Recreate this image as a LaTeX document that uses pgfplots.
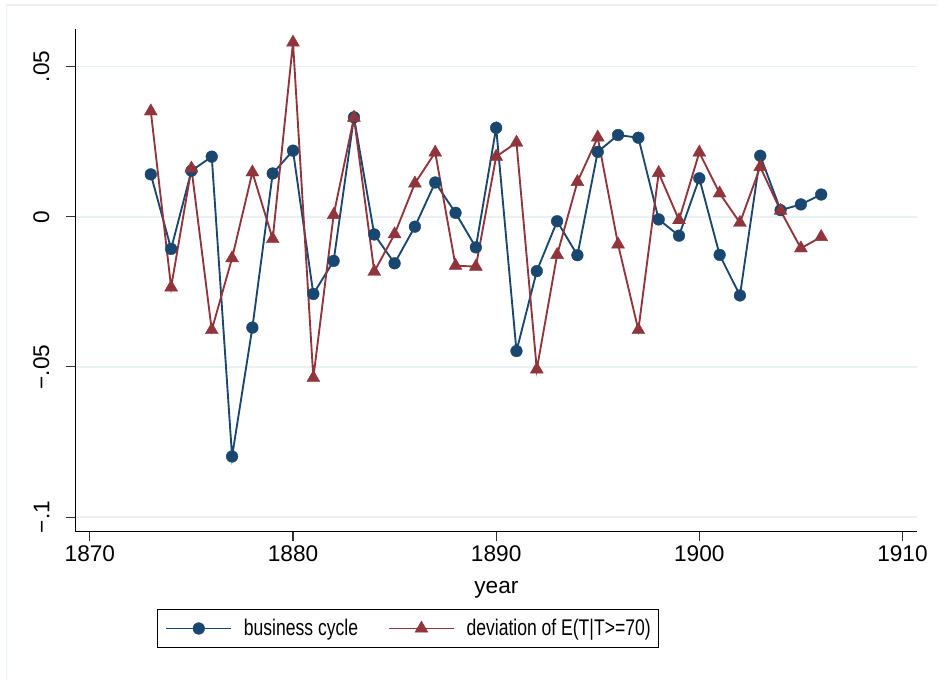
\documentclass[border=0pt]{standalone}
\usepackage{fontspec}
\setmainfont{Liberation Sans}
\usepackage{graphicx}
\usepackage{pgfplots}
\pgfplotsset{compat=1.18}
\definecolor{stnavy}{RGB}{26,71,111}
\definecolor{stmaroon}{RGB}{144,53,59}
\definecolor{stgrid}{RGB}{234,241,243}
\newcommand{\lgtext}[1]{\scalebox{0.775}[1]{#1}}
\begin{document}
\begin{tikzpicture}
\begin{axis}[
  at={(0,0)}, anchor=south west,
  width=631.875pt, height=377.25pt, scale only axis,
  xmin=1869.29, xmax=1910.73,
  ymin=-0.1049, ymax=0.0624,
  axis x line*=bottom, axis y line*=left,
  axis line style={-, black, line width=0.9pt},
  xtick={1870,1880,1890,1900,1910},
  xticklabels={1870,1880,1890,1900,1910},
  ytick={-0.1,-0.05,0,0.05},
  yticklabels={−.1,−.05,0,.05},
  tick align=outside,
  major tick length=7pt,
  tick style={line width=0.8pt, black!80},
  minor tick num=0,
  ymajorgrids, xmajorgrids=false,
  grid style={stgrid, line width=1.2pt},
  ticklabel style={font=\fontsize{17}{20}\selectfont},
  yticklabel style={rotate=90, anchor=south, yshift=9pt},
  xticklabel style={yshift=0pt},
  xlabel={year},
  xlabel style={font=\fontsize{17}{20}\selectfont, yshift=-8pt},
  legend columns=2,
  legend style={at={(0.0964,-0.153)}, anchor=north west, draw=black, line width=0.75pt,
    font=\fontsize{17}{20}\selectfont, inner xsep=6.2pt, inner ysep=7.5pt,
    nodes={inner sep=0pt},
    /tikz/every odd column/.append style={column sep=8.8pt},
    /tikz/every even column/.append style={column sep=22.5pt}},
  legend cell align=left,
  legend image code/.code={\draw[mark repeat=2,mark phase=2] plot coordinates {(0pt,0pt)(24.4pt,0pt)(48.75pt,0pt)};},
  clip=false,
]
\addplot[color=stnavy, line width=1.4pt, mark=*, mark size=4.4pt, mark options={fill=stnavy, draw=stnavy, line width=0.3pt}] coordinates {
(1873,0.0141)(1874,-0.0107)(1875,0.0153)(1876,0.0200)(1877,-0.0798)(1878,-0.0369)
(1879,0.0144)(1880,0.0220)(1881,-0.0257)(1882,-0.0147)(1883,0.0331)(1884,-0.0059)
(1885,-0.0155)(1886,-0.0033)(1887,0.0114)(1888,0.0013)(1889,-0.0102)(1890,0.0296)
(1891,-0.0447)(1892,-0.0181)(1893,-0.0015)(1894,-0.0128)(1895,0.0216)(1896,0.0272)
(1897,0.0263)(1898,-0.0009)(1899,-0.0063)(1900,0.0128)(1901,-0.0127)(1902,-0.0262)
(1903,0.0203)(1904,0.0022)(1905,0.0041)(1906,0.0074)};
\addlegendentry{\lgtext{business cycle}}
\addplot[color=stmaroon, line width=1.4pt, mark=triangle*, mark size=5.6pt, mark options={fill=stmaroon, draw=stmaroon, line width=0.3pt}] coordinates {
(1873,0.0351)(1874,-0.0235)(1875,0.0161)(1876,-0.0377)(1877,-0.0138)(1878,0.0148)
(1879,-0.0074)(1880,0.0580)(1881,-0.0536)(1882,0.0006)(1883,0.0330)(1884,-0.0183)
(1885,-0.0058)(1886,0.0111)(1887,0.0214)(1888,-0.0163)(1889,-0.0166)(1890,0.0200)
(1891,0.0247)(1892,-0.0508)(1893,-0.0127)(1894,0.0116)(1895,0.0264)(1896,-0.0092)
(1897,-0.0377)(1898,0.0146)(1899,-0.0011)(1900,0.0214)(1901,0.0078)(1902,-0.0020)
(1903,0.0166)(1904,0.0020)(1905,-0.0105)(1906,-0.0067)};
\addlegendentry{\lgtext{deviation of E(T|T>=70)}\hspace{5pt}}
\end{axis}
\draw[stgrid, line width=1.1pt] (-51.75pt,-112.275pt) -- (-51.75pt,395.475pt) -- (646.875pt,395.475pt);
\path[use as bounding box] (-56.625pt,-112.275pt) rectangle (646.875pt,399.225pt);
\end{tikzpicture}
\end{document}
